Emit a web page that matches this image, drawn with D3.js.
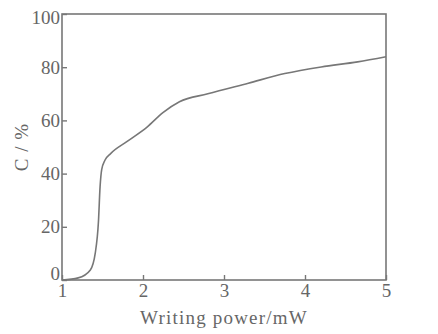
<!DOCTYPE html>
<html>
<head>
<meta charset="utf-8">
<script src="https://cdn.jsdelivr.net/npm/d3@7"></script>
<style>
  body { margin: 0; background: #fff; }
  svg text { font-family: "Liberation Serif", "DejaVu Serif", serif; fill: #666; }
</style>
</head>
<body>
<div id="chart"></div>
<script>
const WIDTH = 438
const HEIGHT = 334

// curve
const power = [1.0, 1.2, 1.35, 1.41, 1.45, 1.47, 1.49, 1.53, 1.6, 1.8, 2.05, 2.25, 2.45, 2.8, 3.3, 3.75, 4.2, 4.65, 5.0]
const contrast = [0, 0.8, 3.8, 10, 22, 35, 41.5, 45, 47.5, 52, 57.5, 63, 67, 70, 74, 77.6, 80.1, 82, 83.9]

const xTicks = [1, 2, 3, 4, 5]
const yTicks = [0, 20, 40, 60, 80, 100]

const margin = { left: 62, right: 52, top: 14, bottom: 54 }
const lineColor = '#777'

const svg = d3.select('#chart').append('svg')
  .attr('width', WIDTH)
  .attr('height', HEIGHT)

const x = d3.scaleLinear().domain([1, 5]).range([margin.left, WIDTH - margin.right])
const y = d3.scaleLinear().domain([0, 100]).range([HEIGHT - margin.bottom, margin.top])

// frame
svg.append('rect')
  .attr('x', x(1)).attr('y', y(100))
  .attr('width', x(5) - x(1)).attr('height', y(0) - y(100))
  .attr('fill', 'none').attr('stroke', lineColor).attr('stroke-width', 1.6)

const xAxis = svg.append('g')
  .attr('transform', `translate(0,${y(0)})`)
  .call(d3.axisBottom(x).tickValues(xTicks).tickFormat(d3.format('d')).tickSize(-5).tickPadding(4))
const yAxis = svg.append('g')
  .attr('transform', `translate(${x(1)},0)`)
  .call(d3.axisLeft(y).tickValues(yTicks).tickSize(-5).tickPadding(2))

for (const ax of [xAxis, yAxis]) {
  ax.select('.domain').remove()
  ax.selectAll('line').attr('stroke', lineColor).attr('stroke-width', 1.4)
  ax.selectAll('text').attr('font-size', 19).attr('fill', '#666')
}
// the zero sits a little above the bottom axis
yAxis.selectAll('.tick text').filter(d => d === 0).attr('y', -7)
yAxis.selectAll('.tick text').filter(d => d === 100).attr('y', 3)

svg.append('path')
  .datum(power.map((p, i) => [p, contrast[i]]))
  .attr('fill', 'none')
  .attr('stroke', lineColor)
  .attr('stroke-width', 1.6)
  .attr('d', d3.line().x(d => x(d[0])).y(d => y(d[1])).curve(d3.curveMonotoneX))

svg.append('text')
  .attr('x', (x(1) + x(5)) / 2)
  .attr('y', 324)
  .attr('text-anchor', 'middle')
  .attr('font-size', 19)
  .attr('letter-spacing', 1.2)
  .text('Writing power/mW')

svg.append('text')
  .attr('transform', `translate(28,${(y(0) + y(100)) / 2}) rotate(-90)`)
  .attr('text-anchor', 'middle')
  .attr('font-size', 19)
  .attr('letter-spacing', 1)
  .text('C / %')
</script>
</body>
</html>
